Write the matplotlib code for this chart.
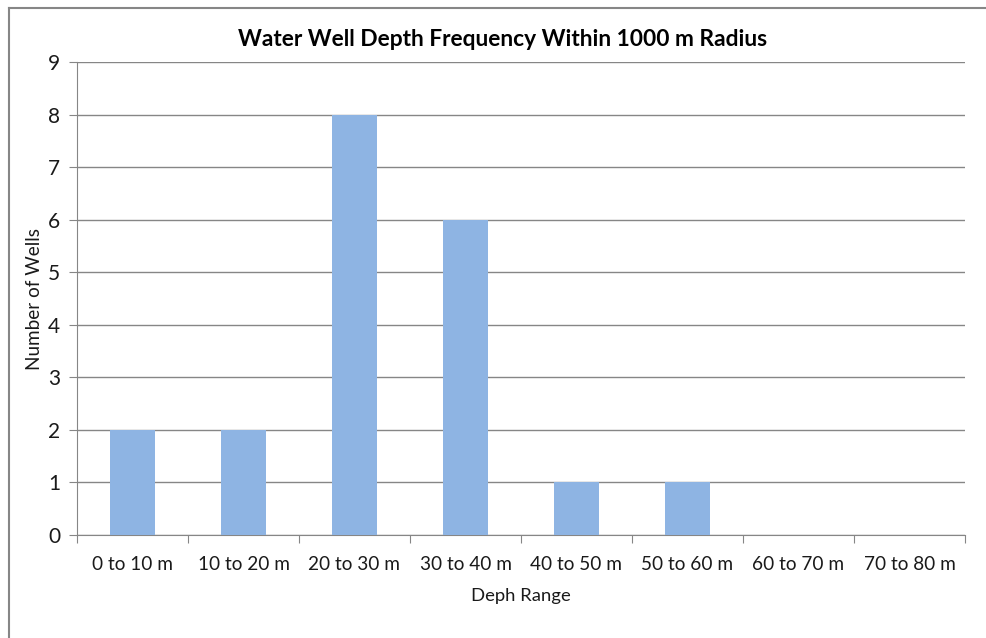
import matplotlib
matplotlib.use("Agg")
import matplotlib.pyplot as plt
from matplotlib.lines import Line2D

categories = ["0 to 10 m", "10 to 20 m", "20 to 30 m", "30 to 40 m",
              "40 to 50 m", "50 to 60 m", "60 to 70 m", "70 to 80 m"]
well_counts = [2, 2, 8, 6, 1, 1, 0, 0]
y_ticks = list(range(0, 10))

title = "Water Well Depth Frequency Within 1000 m Radius"
x_label = "Deph Range"
y_label = "Number of Wells"

plt.rcParams["font.family"] = ["Lato", "DejaVu Sans"]

W, H = 986, 638
fig = plt.figure(figsize=(W / 100, H / 100), dpi=100)
fig.patch.set_facecolor("white")

left, right, top, bottom = 77, 965, 62, 535
ax = fig.add_axes([left / W, 1 - bottom / H, (right - left) / W, (bottom - top) / H])

grid_col = "#868686"
text_col = "#1a1a1a"
x = list(range(len(categories)))
ax.bar(x, well_counts, width=0.4, color="#8eb4e3", zorder=3)
ax.set_xlim(-0.5, len(categories) - 0.5)
ax.set_ylim(0, 9)
ax.set_yticks(y_ticks)
ax.yaxis.grid(True, color=grid_col, linewidth=1, zorder=0)

ax.set_xticks([i - 0.5 for i in range(len(categories) + 1)])
ax.set_xticklabels([])
ax.set_xticks(x, minor=True)
ax.set_xticklabels(categories, minor=True, fontsize=13.7, color=text_col)
ax.tick_params(axis="x", which="major", length=6, color=grid_col, direction="out")
ax.tick_params(axis="x", which="minor", length=0, pad=15)
ax.tick_params(axis="y", length=6, color=grid_col, labelsize=15, labelcolor=text_col, pad=6)

for side in ["top", "right"]:
    ax.spines[side].set_visible(False)
for side in ["left", "bottom"]:
    ax.spines[side].set_color(grid_col)

ax.set_xlabel(x_label, fontsize=13.3, color=text_col, labelpad=11)
ax.set_ylabel(y_label, fontsize=13.6, color=text_col, labelpad=4)
fig.text(503 / W, 1 - 40 / H, title, ha="center", va="center",
         fontsize=16.4, fontweight="bold", color="black")

# chart frame
fig.add_artist(Line2D([8.5 / W, 8.5 / W], [0, 1 - 8 / H], color=grid_col, lw=1.5))
fig.add_artist(Line2D([8.5 / W, 1], [1 - 8 / H, 1 - 8 / H], color=grid_col, lw=1.5))

fig.savefig("out.png", dpi=100, facecolor="white")
